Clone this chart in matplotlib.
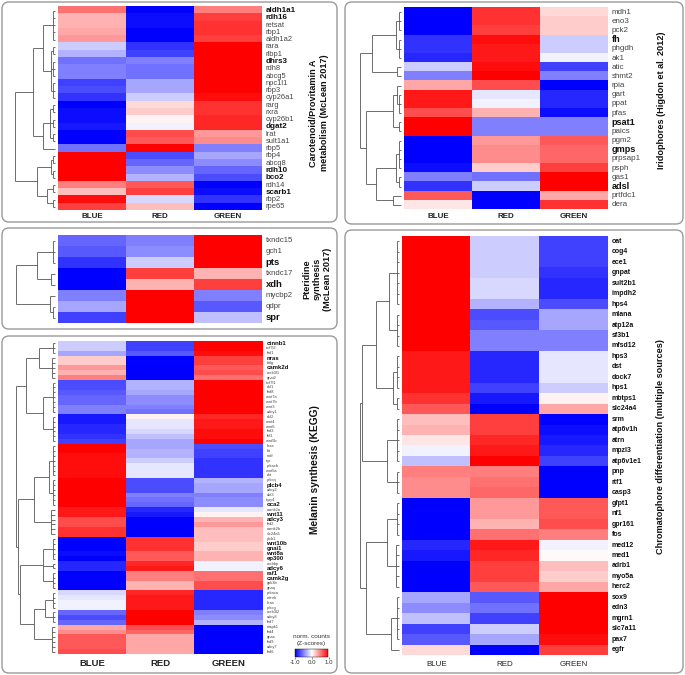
import numpy as np
import matplotlib
matplotlib.use('Agg')
import matplotlib.pyplot as plt
from matplotlib.patches import FancyBboxPatch
from matplotlib.cm import ScalarMappable
from matplotlib.colors import Normalize

plt.rcParams['font.family'] = ['Liberation Sans', 'DejaVu Sans']

columns = ['BLUE', 'RED', 'GREEN']

# ---------------- Panel 1: Carotenoid ----------------
p1_genes = ['aldh1a1', 'rdh16', 'retsat', 'rbp1', 'aldh1a2', 'rara', 'rlbp1', 'dhrs3', 'rdh8',
            'abcg5', 'npc1l1', 'rbp3', 'cyp26a1', 'rarg', 'rxra', 'cyp26b1', 'dgat2', 'lrat',
            'sult1a1', 'rbp5', 'rbp4', 'abcg8', 'rdh10', 'bco2', 'rdh14', 'scarb1', 'rbp2', 'rpe65']
p1_bold = ['aldh1a1', 'rdh16', 'dhrs3', 'dgat2', 'rdh10', 'bco2', 'scarb1']
p1_blue = [0.55, 0.3, 0.3, 0.35, 0.4, -0.2, -0.3, -0.55, -0.5, -0.5, -0.75, -0.7, -0.8, -1.0,
           -0.95, -0.95, -0.9, -1.0, -1.0, -0.55, 1.0, 1.0, 1.0, 1.0, 0.5, 0.25, 0.95, 0.75]
p1_red = [-1.0, -0.95, -0.95, -1.0, -1.0, -0.8, -0.75, -0.5, -0.55, -0.55, -0.35, -0.35, -0.2, 0.15,
          0.2, 0.05, -0.05, 0.7, 0.65, 1.0, -0.7, -0.6, -0.45, -0.3, 0.65, 0.75, -0.15, 0.25]
p1_green = [0.5, 0.75, 0.8, 0.8, 0.75, 1.0, 1.0, 1.0, 1.0, 1.0, 1.0, 1.0, 0.95, 0.8,
            0.8, 0.85, 0.85, 0.4, 0.45, -0.5, -0.35, -0.45, -0.6, -0.7, -1.0, -0.95, -0.8, -1.0]
p1_tree = [1.0,
           [0.55,
            [0.3, [0.06, 0, 1, 2, 3, 4], [0.1, [0.04, 5, 6], [0.04, 7, 8, 9], [0.04, 10, 11, 12]]],
            [0.3, [0.12, [0.05, 13, 14], [0.05, 15, 16], [0.06, 17, 18]], 19]],
           [0.45, [0.1, [0.04, 20, 21], [0.04, 22, 23]], [0.2, [0.06, 24, 25], [0.06, 26, 27]]]]

# ---------------- Panel 2: Iridophores ----------------
p2_genes = ['mdh1', 'eno3', 'pck2', 'fh', 'phgdh', 'ak1', 'atic', 'shmt2', 'rpia', 'gart', 'ppat',
            'pfas', 'psat1', 'paics', 'pgm2', 'gmps', 'prpsap1', 'psph', 'gas1', 'adsl', 'prtfdc1', 'dera']
p2_bold = ['fh', 'psat1', 'gmps', 'adsl']
p2_blue = [-1.0, -1.0, -1.0, -0.8, -0.8, -0.85, -0.2, -0.5, 0.35, 0.9, 0.9, 0.7, 1.0, 1.0,
           -1.0, -1.0, -1.0, -0.95, -0.5, -0.8, 0.65, 0.1]
p2_red = [0.8, 0.8, 0.75, 0.95, 0.9, 0.9, 0.95, 1.0, 0.7, -0.1, -0.05, 0.3, -0.5, -0.5,
          0.4, 0.45, 0.45, 0.2, -0.55, -0.2, -1.0, -1.0]
p2_green = [0.15, 0.2, 0.2, -0.2, -0.2, -0.05, -0.75, -0.5, -1.0, -0.85, -0.85, -0.95, -0.5, -0.5,
            0.65, 0.6, 0.6, 0.75, 1.0, 1.0, 0.35, 0.8]
p2_tree = [1.0,
           [0.7, [0.12, [0.04, 0, 1, 2], [0.05, 3, 4, 5]], [0.1, 6, 7]],
           [0.85,
            [0.2, [0.1, 8, [0.05, 9, 10, 11]], [0.05, 12, 13]],
            [0.6, [0.12, [0.04, 14, 15, 16, 17], [0.05, 18, 19]], [0.2, 20, 21]]]]

# ---------------- Panel 3: Pteridine ----------------
p3_genes = ['txndc15', 'gch1', 'pts', 'txndc17', 'xdh', 'mycbp2', 'qdpr', 'spr']
p3_bold = ['pts', 'xdh', 'spr']
p3_blue = [-0.6, -0.65, -0.8, -1.0, -1.0, -0.5, -0.35, -0.75]
p3_red = [-0.5, -0.45, -0.2, 0.75, 0.3, 1.0, 1.0, 1.0]
p3_green = [1.0, 1.0, 1.0, 0.3, 0.75, -0.5, -0.65, -0.25]
p3_tree = [1.0, [0.45, [0.05, 0, 1, 2], [0.1, 3, 4]], [0.12, 5, [0.05, 6, 7]]]

# ---------------- Panel 4: Melanin synthesis ----------------
p4_genes = ['ctnnb1', 'tcf7l2', 'fzd1', 'nras', 'kitlg', 'camk2d', 'creb3l1', 'gnai2', 'tcf7l1',
            'dvl1', 'fzd8', 'wnt7a', 'wnt7b', 'wnt3', 'adcy1', 'dvl2', 'wnt4', 'wnt6', 'fzd3', 'lef1',
            'wnt5b', 'kras', 'kit', 'mitf', 'tyr', 'prkacb', 'wnt5a', 'dct', 'prkcq', 'plcb4', 'adcy2',
            'akt3', 'tyrp1', 'oca2', 'camk2a', 'wnt11', 'adcy3', 'fzd2', 'camk2b', 'slc24a5', 'plcb1',
            'wnt10b', 'gnai1', 'wnt8a', 'ep300', 'crebbp', 'adcy6', 'raf1', 'camk2g', 'gsk3b', 'gnaq',
            'prkaca', 'ednrb', 'hras', 'prkcg', 'creb3l2', 'adcy8', 'fzd7', 'mapk1', 'fzd4', 'gnas',
            'fzd9', 'adcy7', 'fzd6']
p4_bold = ['ctnnb1', 'nras', 'camk2d', 'plcb4', 'oca2', 'wnt11', 'adcy3', 'wnt10b', 'gnai1',
           'wnt8a', 'ep300', 'adcy6', 'raf1', 'camk2g']
p4_blue = [-0.2, -0.2, -0.35, 0.2, 0.2, 0.4, 0.3, 0.5, -0.7, -0.7, -0.65, -0.6, -0.6, -0.5, -0.5,
           -0.9, -0.9, -0.85, -0.85, -0.8, -0.75, 1.0, 1.0, 0.95, 0.95, 0.95, 0.95, 0.95, 1.0, 1.0,
           1.0, 1.0, 1.0, 1.0, 0.9, 0.9, 0.7, 0.7, 0.8, 0.8, -1.0, -1.0, -1.0, -0.95, -1.0, -0.85,
           -0.85, -1.0, -1.0, -1.0, -1.0, -0.15, -0.1, -0.05, -0.05, -0.6, -0.7, -0.6, 0.35, 0.45,
           0.65, 0.65, 0.65, 0.7]
p4_red = [-0.75, -0.75, -0.65, -1.0, -1.0, -1.0, -1.0, -1.0, -0.3, -0.3, -0.35, -0.45, -0.45,
          -0.5, -0.55, 0.05, -0.1, -0.1, -0.15, -0.25, -0.35, -0.35, -0.3, -0.3, -0.2, -0.1, -0.1,
          -0.1, -0.7, -0.7, -0.7, -0.5, -0.55, -0.6, -0.85, -0.9, -1.0, -1.0, -1.0, -1.0, 0.8, 0.8,
          0.8, 0.65, 0.65, 0.85, 0.9, 0.5, 0.5, 0.3, 0.3, 0.85, 0.9, 0.9, 0.9, 1.0, 1.0, 1.0, 0.7,
          0.6, 0.35, 0.35, 0.35, 0.35]
p4_green = [1.0, 1.0, 0.95, 0.75, 0.75, 0.65, 0.7, 0.55, 1.0, 1.0, 1.0, 1.0, 1.0, 1.0, 1.0, 0.85,
            0.9, 0.9, 0.95, 0.95, 1.0, -0.7, -0.75, -0.75, -0.8, -0.8, -0.8, -0.8, -0.3, -0.35,
            -0.35, -0.5, -0.45, -0.45, -0.1, 0.05, 0.3, 0.4, 0.25, 0.25, 0.25, 0.2, 0.2, 0.3, 0.3,
            -0.05, -0.05, 0.55, 0.55, 0.7, 0.7, -0.85, -0.85, -0.85, -0.85, -0.5, -0.45, -0.3, -1.0,
            -1.0, -1.0, -1.0, -1.0, -1.0]
p4_tree = [1.0,
           [0.75,
            [0.4, [0.06, 0, 1, 2], [0.08, 3, 4, 5, 6, 7]],
            [0.3, [0.05, 8, 9, 10, 11, 12, 13, 14], [0.05, 15, 16, 17, 18, 19, 20]]],
           [0.95,
            [0.55, [0.15, [0.05, 21, 22, 23, 24, 25, 26, 27], [0.05, 28, 29, 30, 31, 32, 33]],
             [0.1, 34, 35, 36, 37, 38, 39]],
            [0.9,
             [0.3, [0.05, 40, 41, 42, 43, 44], [0.05, 45, 46], [0.05, 47, 48, 49, 50]],
             [0.55, [0.25, [0.05, 51, 52, 53, 54], [0.05, 55, 56, 57]], [0.08, 58, 59, 60, 61, 62, 63]]]]]

# ---------------- Panel 5: Chromatophore differentiation ----------------
p5_genes = ['oat', 'cog4', 'ece1', 'gnpat', 'sult2b1', 'impdh2', 'hps4', 'mlana', 'atp12a', 'sf3b1',
            'mfsd12', 'hps3', 'dst', 'dock7', 'hps1', 'mbtps1', 'slc24a4', 'srm', 'atp6v1h', 'atrn',
            'mpzl3', 'atp6v1e1', 'pnp', 'rtf1', 'casp3', 'gfpt1', 'nf1', 'gpr161', 'fos', 'med12',
            'med1', 'adrb1', 'myo5a', 'herc2', 'sox9', 'edn3', 'mgrn1', 'slc7a11', 'pax7', 'egfr']
p5_bold = list(p5_genes)
p5_blue = [1.0, 1.0, 1.0, 1.0, 1.0, 1.0, 1.0, 1.0, 1.0, 1.0, 1.0, 0.9, 0.9, 0.9, 0.9, 0.8, 0.65,
           0.25, 0.3, 0.1, -0.05, -0.25, 0.5, 0.45, 0.45, -1.0, -1.0, -1.0, -1.0, -0.85, -0.9, -1.0,
           -1.0, -1.0, -0.35, -0.45, -0.25, -0.75, -0.65, 0.15]
p5_red = [-0.2, -0.2, -0.2, -0.2, -0.15, -0.15, -0.3, -0.7, -0.65, -0.5, -0.5, -0.85, -0.85, -0.85,
          -0.75, -0.9, -1.0, 0.75, 0.75, 0.85, 0.9, 1.0, 0.5, 0.55, 0.6, 0.4, 0.4, 0.3, 0.55, 0.9,
          0.85, 0.75, 0.75, 0.65, -0.65, -0.55, -0.75, -0.2, -0.35, -1.0]
p5_green = [-0.75, -0.75, -0.75, -0.8, -0.85, -0.85, -0.7, -0.35, -0.35, -0.5, -0.5, -0.1, -0.1,
            -0.1, -0.2, 0.05, 0.35, -1.0, -0.95, -0.9, -0.85, -0.75, -1.0, -1.0, -1.0, 0.65, 0.65,
            0.7, 0.5, -0.05, 0.02, 0.25, 0.2, 0.35, 1.0, 1.0, 1.0, 1.0, 0.95, 0.75]
p5_tree = [1.0,
           [0.95,
            [0.6, [0.25, [0.05, 0, 1, 2, 3, 4, 5, 6], [0.05, 7, 8, 9, 10]],
             [0.15, [0.05, 11, 12, 13, 14], [0.05, 15, 16]]],
            [0.3, [0.05, 17, 18, 19, 20, 21], [0.05, 22, 23, 24]]],
           [0.85,
            [0.3, [0.05, 25, 26, 27, 28], [0.08, 29, 30, 31, 32, 33]],
            [0.2, [0.05, 34, 35, 36, 37, 38], 39]]]

# ---------------- layout (pixel coordinates) ----------------
panels = [
    dict(genes=p1_genes, bold=p1_bold, vals=(p1_blue, p1_red, p1_green), tree=p1_tree,
         box=(2, 2, 337, 222), heat=(58, 262, 7, 210.5), root=15, lab_fs=5.4, bold_fs=5.8,
         col_fs=5.8, col_y=216.5, col_w='bold',
         title='Carotenoid/Provitamin A\nmetabolism (McLean 2017)', tx=319, ty=113, tfs=6.6),
    dict(genes=p2_genes, bold=p2_bold, vals=(p2_blue, p2_red, p2_green), tree=p2_tree,
         box=(345, 2, 683, 224), heat=(404, 608, 7.5, 209.5), root=360, lab_fs=5.8, bold_fs=6.6,
         col_fs=5.8, col_y=217, col_w='bold',
         title='Iridophores (Higdon et al. 2012)', tx=662, ty=100, tfs=6.6),
    dict(genes=p3_genes, bold=p3_bold, vals=(p3_blue, p3_red, p3_green), tree=p3_tree,
         box=(2, 228, 337, 329), heat=(58, 262, 235, 323), root=16, lab_fs=5.6, bold_fs=6.8,
         col_fs=None, col_y=None, col_w='bold',
         title='Pteridine\nsynthesis\n(McLean 2017)', tx=317, ty=279, tfs=6.6),
    dict(genes=p4_genes, bold=p4_bold, vals=(p4_blue, p4_red, p4_green), tree=p4_tree,
         box=(2, 336, 337, 673), heat=(58, 263, 341, 654), root=16, lab_fs=2.9, bold_fs=4.3,
         col_fs=6.8, col_y=663, col_w='bold',
         title='Melanin synthesis (KEGG)', tx=315, ty=470, tfs=7.4),
    dict(genes=p5_genes, bold=p5_bold, vals=(p5_blue, p5_red, p5_green), tree=p5_tree,
         box=(345, 230, 683, 673), heat=(402, 608, 236, 655), root=360, lab_fs=5.0, bold_fs=5.0,
         col_fs=5.8, col_y=664, col_w='normal',
         title='Chromatophore differentiation (multiple sources)', tx=661, ty=447, tfs=6.6),
]

cmap = plt.get_cmap('bwr')
norm = Normalize(vmin=-1, vmax=1)

fig = plt.figure(figsize=(6.85, 6.75), dpi=100)
ax = fig.add_axes([0, 0, 1, 1])
ax.axis('off')

TREE_COLOR = '#555555'


def draw_tree(node, y0, rowh, xleaf, xroot):
    if isinstance(node, int):
        return xleaf, y0 + (node + 0.5) * rowh
    h = node[0]
    x = xleaf - h * (xleaf - xroot)
    pts = [draw_tree(c, y0, rowh, xleaf, xroot) for c in node[1:]]
    ys = [p[1] for p in pts]
    for cx, cy in pts:
        ax.plot([x, cx], [cy, cy], color=TREE_COLOR, lw=0.6, solid_capstyle='butt')
    ax.plot([x, x], [min(ys), max(ys)], color=TREE_COLOR, lw=0.6, solid_capstyle='butt')
    return x, (min(ys) + max(ys)) / 2


for p in panels:
    bx0, by0, bx1, by1 = p['box']
    ax.add_patch(FancyBboxPatch((bx0, by0), bx1 - bx0, by1 - by0,
                                boxstyle='round,pad=0,rounding_size=7',
                                fc='white', ec='#9a9a9a', lw=1.0, zorder=0))
    hx0, hx1, hy0, hy1 = p['heat']
    data = np.array(p['vals']).T
    n = data.shape[0]
    ax.imshow(data, cmap=cmap, norm=norm, extent=[hx0, hx1, hy1, hy0],
              aspect='auto', interpolation='nearest', zorder=1)
    rowh = (hy1 - hy0) / n
    # dendrogram
    draw_tree(p['tree'], hy0, rowh, hx0 - 3, p['root'])
    # row labels
    for i, g in enumerate(p['genes']):
        isb = g in p['bold']
        ax.text(hx1 + 3.5, hy0 + (i + 0.5) * rowh, g,
                fontsize=p['bold_fs'] if isb else p['lab_fs'],
                fontweight='bold' if isb else 'normal',
                color='#111111' if isb else '#444444', va='center', ha='left')
    # column labels
    if p['col_fs']:
        cw = (hx1 - hx0) / 3
        for j, c in enumerate(columns):
            ax.text(hx0 + (j + 0.5) * cw, p['col_y'], c, fontsize=p['col_fs'],
                    fontweight=p['col_w'], color='#222222', ha='center', va='center')
    # panel title
    ax.text(p['tx'], p['ty'], p['title'], rotation=90, fontsize=p['tfs'], fontweight='bold',
            ha='center', va='center', multialignment='center', color='#111111', linespacing=1.15)

ax.set_xlim(0, 685)
ax.set_ylim(675, 0)

# colour key
ax.text(311.5, 636.5, 'norm. counts', fontsize=4.6, color='#333333', ha='center', va='center')
ax.text(311.5, 643.5, '(Z-scores)', fontsize=4.6, color='#333333', ha='center', va='center')
cax = fig.add_axes([295 / 685, 1 - 657 / 675, 33.5 / 685, 8 / 675])
cb = fig.colorbar(ScalarMappable(norm=norm, cmap=cmap), cax=cax, orientation='horizontal',
                  ticks=[-1, 0, 1])
cb.ax.set_xticklabels(['-1.0', '0.0', '1.0'])
cb.ax.tick_params(labelsize=4.4, length=1.5, width=0.4, pad=0.8, colors='#333333')
cb.outline.set_linewidth(0.3)

fig.savefig('out.png', dpi=100, facecolor='white')
